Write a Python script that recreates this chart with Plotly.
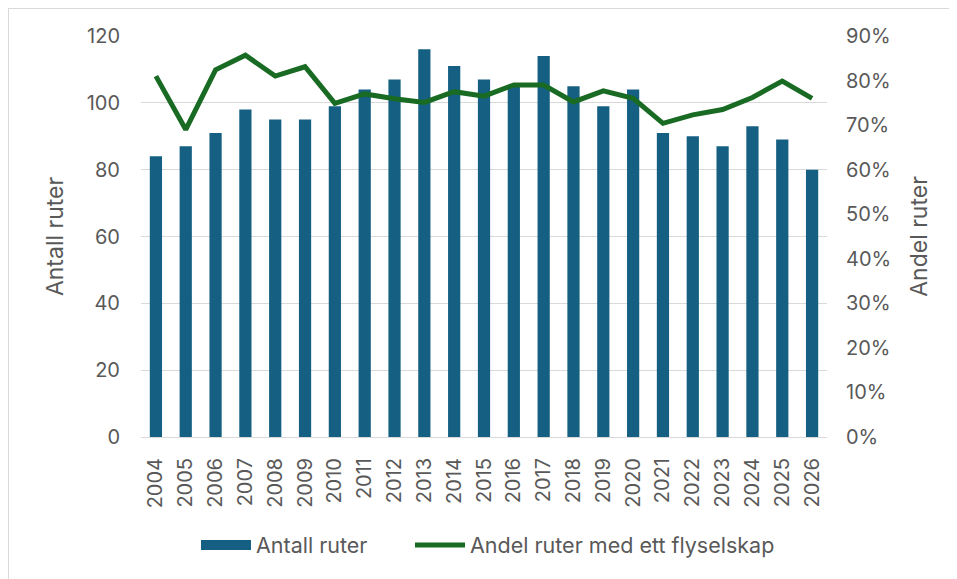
import plotly.graph_objects as go

years = [str(y) for y in range(2004, 2027)]
antall_ruter = [84, 87, 91, 98, 95, 95, 99, 104, 107, 116, 111, 107, 105, 114,
                105, 99, 104, 91, 90, 87, 93, 89, 80]
andel_ett = [0.81, 0.69, 0.824, 0.857, 0.81, 0.831, 0.749, 0.77, 0.759, 0.751,
             0.775, 0.765, 0.79, 0.79, 0.752, 0.777, 0.76, 0.704, 0.723, 0.735,
             0.762, 0.799, 0.76]

bar_name = "Antall ruter"
line_name = "Andel ruter med ett flyselskap"
left_title = "Antall ruter"
right_title = "Andel ruter"

grey = "#595959"
bar_color = "#156082"
line_color = "#196B24"
font_family = "Inter, Open Sans, Liberation Sans, Arial, sans-serif"

fig = go.Figure()
fig.add_trace(go.Bar(x=years, y=antall_ruter, name=bar_name,
                     marker=dict(color=bar_color, line=dict(width=0)),
                     yaxis="y", showlegend=False))
# legend entry for the bars, drawn as a wide block like the reference
fig.add_trace(go.Scatter(x=[None], y=[None], name=bar_name, mode="lines",
                         line=dict(color=bar_color, width=14),
                         yaxis="y", hoverinfo="skip", legend="legend"))
fig.add_trace(go.Scatter(x=years, y=andel_ett, name=line_name, mode="lines",
                         line=dict(color=line_color, width=5),
                         yaxis="y2", legend="legend2"))

# page body has an 8px margin; figure is sized so that the plot lands at the
# same page pixels as the reference (957x579 window)
OFF = 8
PW, PH = 957, 579
W, H = PW - OFF, PH - OFF
L, R, T, B = 141 - OFF, 130, 36 - OFF, 142
pw, ph = W - L - R, H - T - B

def pagex(px):
    return (px - OFF - L) / pw

def pagey(py):
    return (H - B - (py - OFF)) / ph

legend_common = dict(orientation="h", yanchor="middle", y=pagey(545),
                     xanchor="left", font=dict(size=21.5, color=grey),
                     itemwidth=50, bgcolor="rgba(0,0,0,0)")

fig.update_layout(
    width=W, height=H,
    margin=dict(l=L, r=R, t=T, b=B, autoexpand=False),
    paper_bgcolor="white", plot_bgcolor="white",
    font=dict(family=font_family, color=grey, size=20),
    bargap=0.59,
    showlegend=True,
    legend=dict(x=pagex(196), **legend_common),
    legend2=dict(x=pagex(410), **legend_common),
    xaxis=dict(type="category", tickangle=-90, showgrid=False,
               showline=True, linecolor="#D9D9D9", linewidth=1,
               ticks="", tickfont=dict(size=20, color=grey),
               ticklabelstandoff=12, fixedrange=True),
    yaxis=dict(range=[0, 120], dtick=20, showgrid=True, gridcolor="#D9D9D9",
               gridwidth=1, zeroline=False, ticks="",
               tickfont=dict(size=20, color=grey), ticklabelstandoff=20,
               title=dict(text=left_title, font=dict(size=23, color=grey),
                          standoff=16)),
    yaxis2=dict(range=[0, 0.9], dtick=0.1, tickformat=".0%", overlaying="y",
                side="right", showgrid=False, zeroline=False, ticks="",
                tickfont=dict(size=20, color=grey), ticklabelstandoff=18,
                title=dict(text=right_title, font=dict(size=23, color=grey),
                           standoff=20)),
    shapes=[
        dict(type="line", xref="paper", yref="paper",
             x0=pagex(8), x1=pagex(8),
             y0=pagey(8), y1=pagey(PH + 5),
             line=dict(color="#D9D9D9", width=2)),
        dict(type="line", xref="paper", yref="paper",
             x0=pagex(8), x1=pagex(PW + 5),
             y0=pagey(8), y1=pagey(8),
             line=dict(color="#D9D9D9", width=2)),
    ],
)

fig.write_html("out.html")
